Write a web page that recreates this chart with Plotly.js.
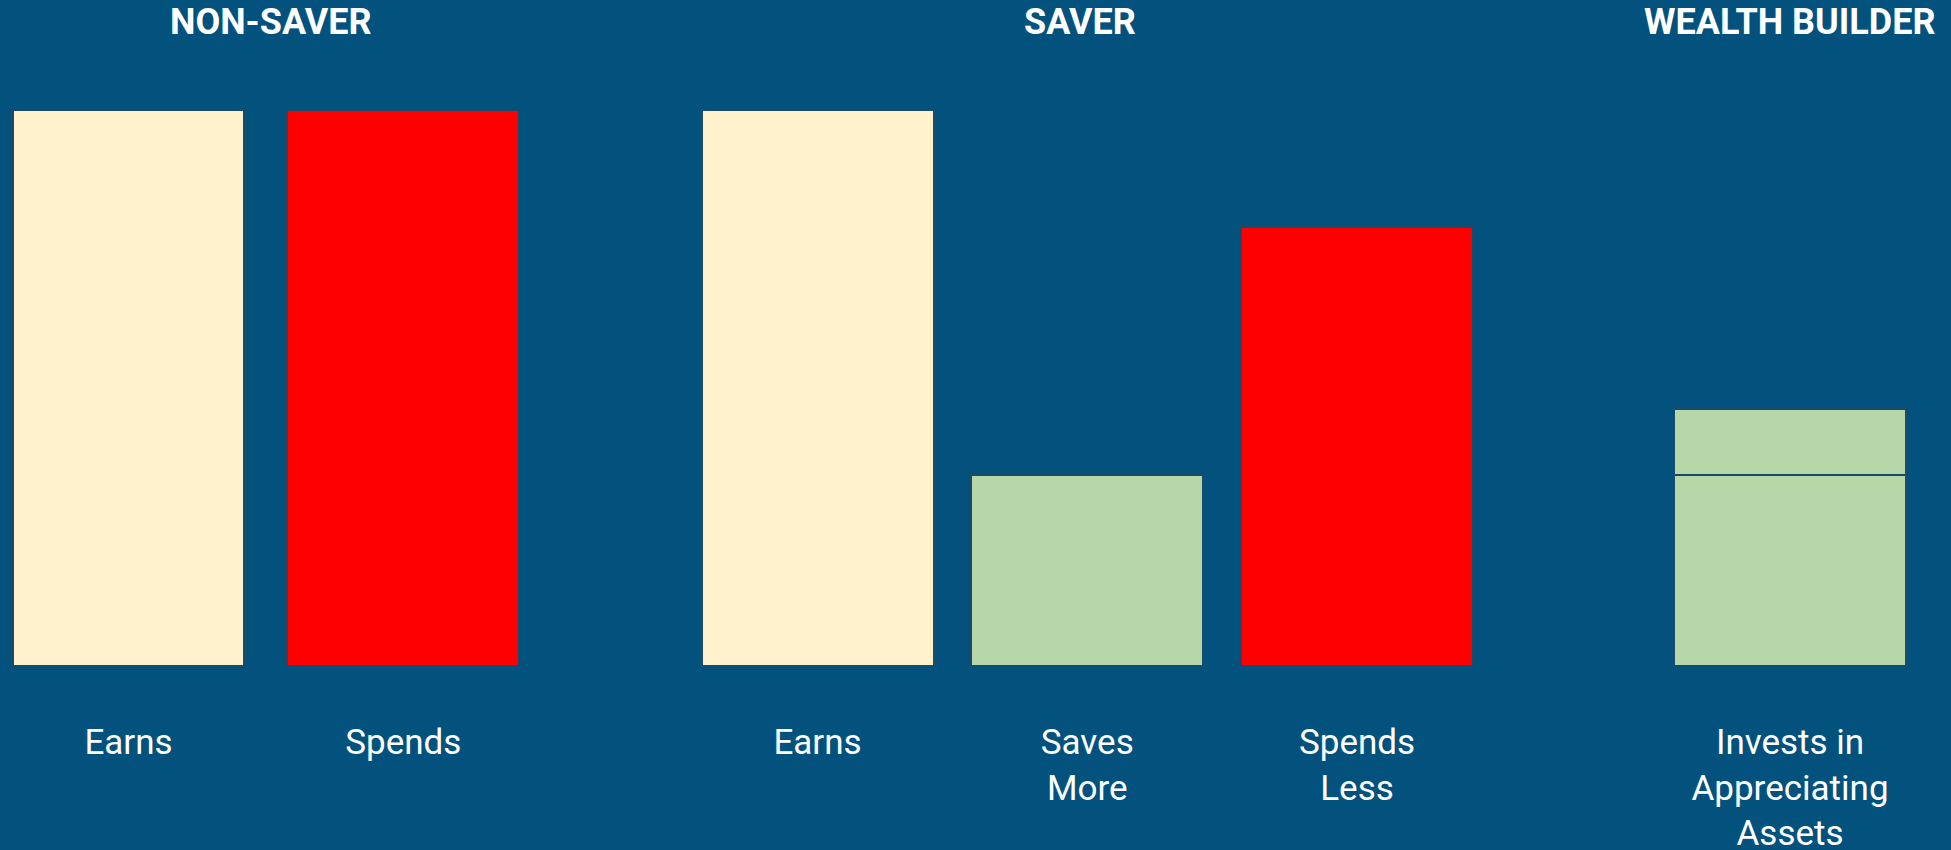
<!DOCTYPE html>
<html>
<head>
<meta charset="utf-8">
<script src="https://cdn.plot.ly/plotly-3.0.1.min.js"></script>
<style>
  html, body { margin: 0; padding: 0; background: #02527d; }
  #chart { width: 1951px; height: 850px; }
</style>
</head>
<body>
<div id="chart"></div>
<script>
// ---- Data ----
const groupTitles = ['NON-SAVER', 'SAVER', 'WEALTH BUILDER'];

const nonSaverCats = ['Earns', 'Spends'];
const nonSaverVals = [100, 100];

const saverCats = ['Earns', 'Saves<br>More', 'Spends<br>Less'];
const saverVals = [100, 34.4, 79];

const wealthCats = ['Invests in<br>Appreciating<br>Assets'];
const wealthBase = [34.4];
const wealthGrowth = [11.9];

// ---- Styles ----
const BG = '#02527d';
const CREAM = '#fff2cc';
const RED = '#ff0000';
const GREEN = '#b6d7a8';
const OUTLINE = { color: '#1b4a6b', width: 2 };
const FONT = 'Roboto, "Open Sans", sans-serif';

const traces = [
  {
    type: 'bar', x: nonSaverCats, y: nonSaverVals, xaxis: 'x', yaxis: 'y',
    width: 0.844,
    marker: { color: [CREAM, RED], line: OUTLINE },
    hoverinfo: 'none', showlegend: false
  },
  {
    type: 'bar', x: saverCats, y: saverVals, xaxis: 'x2', yaxis: 'y2',
    width: 0.86,
    marker: { color: [CREAM, GREEN, RED], line: OUTLINE },
    hoverinfo: 'none', showlegend: false
  },
  {
    type: 'bar', x: wealthCats, y: wealthBase, xaxis: 'x3', yaxis: 'y3',
    width: 0.859,
    marker: { color: GREEN, line: OUTLINE },
    hoverinfo: 'none', showlegend: false
  },
  {
    type: 'bar', x: wealthCats, y: wealthGrowth, xaxis: 'x3', yaxis: 'y3',
    width: 0.859,
    marker: { color: GREEN, line: OUTLINE },
    hoverinfo: 'none', showlegend: false
  }
];

const W = 1951;
const xAxisBase = {
  type: 'category',
  showgrid: false, zeroline: false, showline: false,
  ticks: '', ticklabelstandoff: 52,
  tickfont: { family: FONT, size: 35, color: '#ffffff' },
  fixedrange: true
};
const yAxisBase = {
  range: [0, 100], showgrid: false, zeroline: false, showline: false,
  showticklabels: false, ticks: '', fixedrange: true
};

const layout = {
  width: 1951, height: 850,
  paper_bgcolor: BG, plot_bgcolor: BG,
  margin: { l: 0, r: 0, t: 110, b: 184, pad: 0 },
  barmode: 'stack',
  showlegend: false,
  font: { family: FONT, color: '#ffffff' },
  xaxis: Object.assign({}, xAxisBase, { domain: [0, 600 / W], range: [-0.4676, 1.7158], anchor: 'y' }),
  xaxis2: Object.assign({}, xAxisBase, { domain: [620 / W, 1560 / W], range: [-0.7322, 2.7525], anchor: 'y2' }),
  xaxis3: Object.assign({}, xAxisBase, { domain: [1580 / W, 1], range: [-0.7778, 0.5963], anchor: 'y3' }),
  yaxis: Object.assign({}, yAxisBase, { anchor: 'x' }),
  yaxis2: Object.assign({}, yAxisBase, { anchor: 'x2' }),
  yaxis3: Object.assign({}, yAxisBase, { anchor: 'x3' }),
  annotations: [
    { text: '<b>' + groupTitles[0] + '</b>', xref: 'x', yref: 'paper', x: 0.5, y: 1.159, xshift: 5 },
    { text: '<b>' + groupTitles[1] + '</b>', xref: 'x2', yref: 'paper', x: 1, y: 1.159, xshift: -7 },
    { text: '<b>' + groupTitles[2] + '</b>', xref: 'x3', yref: 'paper', x: 0, y: 1.159 }
  ].map(a => Object.assign(a, {
    showarrow: false, xanchor: 'center', yanchor: 'middle',
    font: { family: FONT, size: 36, color: '#ffffff' }
  }))
};

Plotly.newPlot('chart', traces, layout, { displayModeBar: false, staticPlot: true });
</script>
</body>
</html>
